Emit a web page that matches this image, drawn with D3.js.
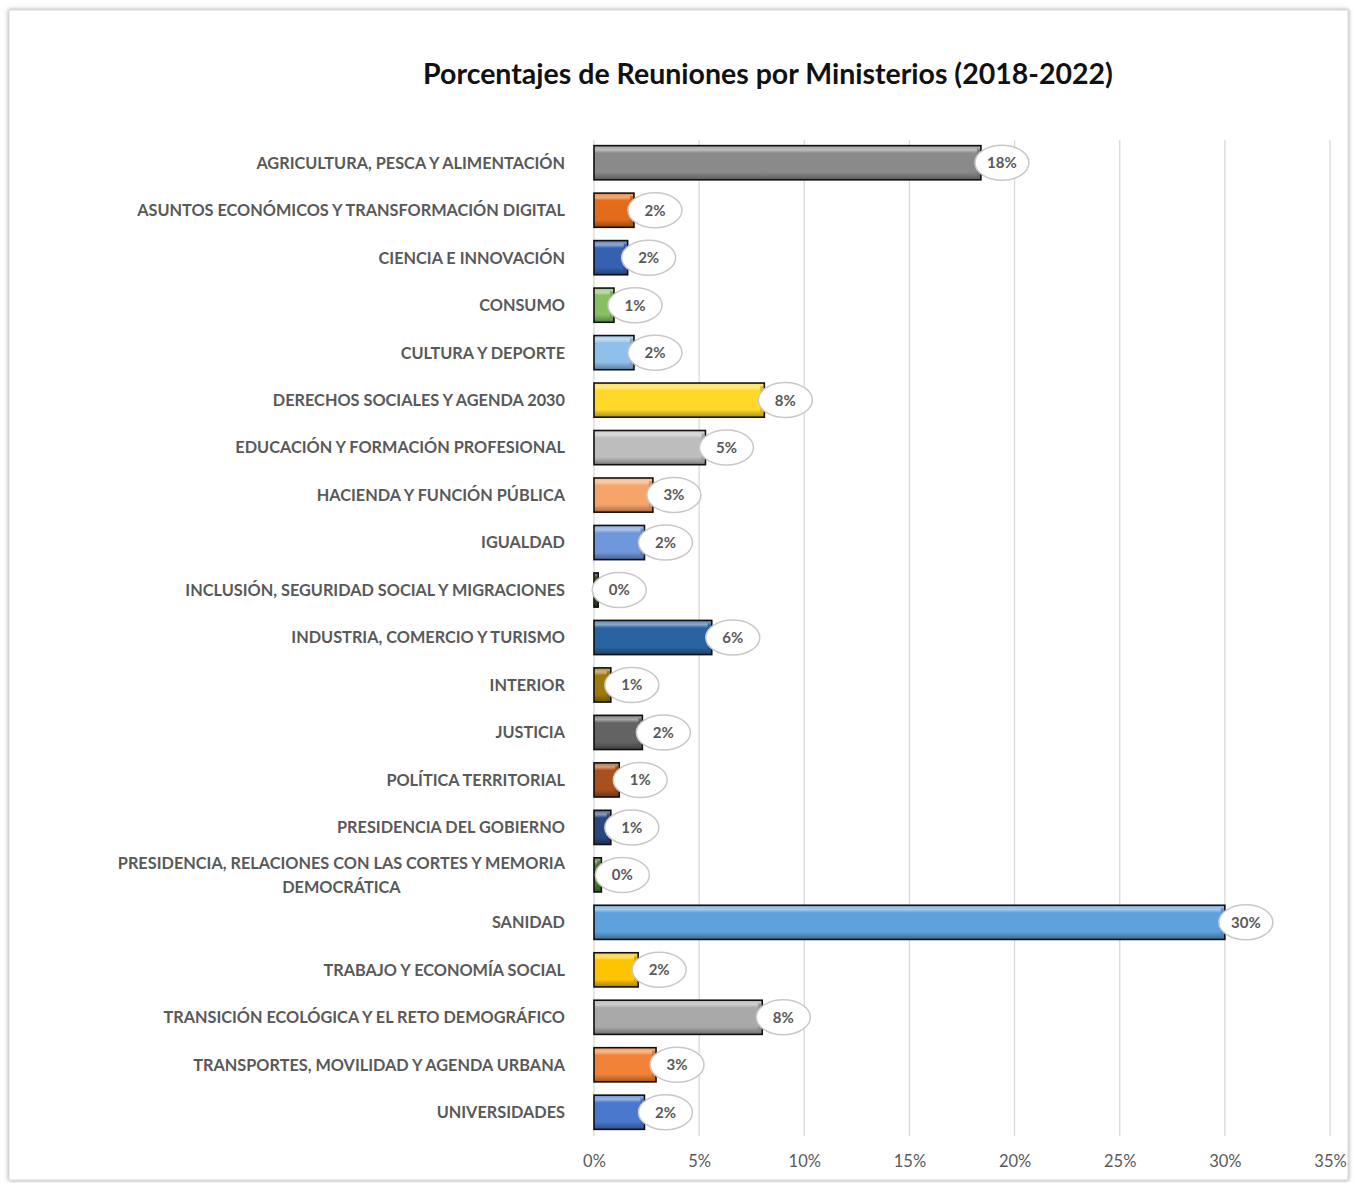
<!DOCTYPE html>
<html>
<head>
<meta charset="utf-8">
<script src="https://cdn.jsdelivr.net/npm/d3@7"></script>
<style>
  body { margin: 0; background: #fff; }
  text { font-family: Lato, "Open Sans", sans-serif; }
</style>
</head>
<body>
<script>
// ministries, in display order
var ministerios = [
	"AGRICULTURA, PESCA Y ALIMENTACIÓN",
	"ASUNTOS ECONÓMICOS Y TRANSFORMACIÓN DIGITAL",
	"CIENCIA E INNOVACIÓN",
	"CONSUMO",
	"CULTURA Y DEPORTE",
	"DERECHOS SOCIALES Y AGENDA 2030",
	"EDUCACIÓN Y FORMACIÓN PROFESIONAL",
	"HACIENDA Y FUNCIÓN PÚBLICA",
	"IGUALDAD",
	"INCLUSIÓN, SEGURIDAD SOCIAL Y MIGRACIONES",
	"INDUSTRIA, COMERCIO Y TURISMO",
	"INTERIOR",
	"JUSTICIA",
	"POLÍTICA TERRITORIAL",
	"PRESIDENCIA DEL GOBIERNO",
	"PRESIDENCIA, RELACIONES CON LAS CORTES Y MEMORIA DEMOCRÁTICA",
	"SANIDAD",
	"TRABAJO Y ECONOMÍA SOCIAL",
	"TRANSICIÓN ECOLÓGICA Y EL RETO DEMOGRÁFICO",
	"TRANSPORTES, MOVILIDAD Y AGENDA URBANA",
	"UNIVERSIDADES"
];
// share of meetings (fraction)
var porcentajes = [0.184, 0.019, 0.016, 0.0095, 0.019, 0.081, 0.053, 0.028, 0.024, 0.002,
	0.056, 0.008, 0.023, 0.012, 0.008, 0.0035, 0.30, 0.021, 0.080, 0.0295, 0.024];
var colores = ["#8a8a8a", "#e36c1a", "#3561b0", "#86c060", "#8ec0ea", "#ffd82a", "#bdbdbd",
	"#f7a46a", "#6f98dc", "#2f4a1e", "#2a64a0", "#9e7a0a", "#636363", "#a8511c", "#28477e",
	"#4a7a30", "#5ea1dc", "#ffc400", "#a9a9a9", "#f28235", "#4a78cc"];
var ticks = [0, 0.05, 0.10, 0.15, 0.20, 0.25, 0.30, 0.35];
var titulo = "Porcentajes de Reuniones por Ministerios (2018-2022)";

var W = 1354, H = 1183;
var svg = d3.select("body").append("svg")
	.attr("width", W).attr("height", H);

var defs = svg.append("defs");
var sombra = defs.append("filter").attr("id", "sombra")
	.attr("x", "-5%").attr("y", "-5%").attr("width", "110%").attr("height", "110%");
sombra.append("feDropShadow").attr("dx", 0).attr("dy", 0).attr("stdDeviation", 2)
	.attr("flood-color", "#888").attr("flood-opacity", 0.8);

// chart frame
svg.append("rect")
	.attr("x", 9).attr("y", 10).attr("width", 1339).attr("height", 1170)
	.attr("fill", "#fff").attr("stroke", "#d9d9d9").attr("stroke-width", 1)
	.attr("filter", "url(#sombra)");

var x = d3.scaleLinear().domain([0, 0.35]).range([594, 1330]);
var y = d3.scaleBand().domain(ministerios).range([139, 1136]).paddingInner(0.28).paddingOuter(0.14);

// gridlines
svg.append("g").selectAll("line").data(ticks).enter().append("line")
	.attr("x1", function (d) { return x(d); }).attr("x2", function (d) { return x(d); })
	.attr("y1", 140).attr("y2", 1136)
	.attr("stroke", "#d9d9d9").attr("stroke-width", 1.3);

// x axis tick labels
var xAxis = d3.axisBottom(x).tickValues(ticks).tickSize(0).tickPadding(0)
	.tickFormat(d3.format(".0%"));
var gx = svg.append("g").attr("transform", "translate(0,1155)").call(xAxis);
gx.select(".domain").remove();
gx.selectAll("text").attr("font-size", 16.5).attr("fill", "#595959")
	.style("font-family", "Lato, sans-serif");

// gradients per bar
colores.forEach(function (c, i) {
	var g = defs.append("linearGradient").attr("id", "grad" + i)
		.attr("x1", 0).attr("y1", 0).attr("x2", 0).attr("y2", 1);
	var base = d3.color(c);
	g.append("stop").attr("offset", "0%").attr("stop-color", d3.interpolateRgb(c, "#fff")(0.2));
	g.append("stop").attr("offset", "12%").attr("stop-color", d3.interpolateRgb(c, "#fff")(0.45));
	g.append("stop").attr("offset", "22%").attr("stop-color", c);
	g.append("stop").attr("offset", "78%").attr("stop-color", c);
	g.append("stop").attr("offset", "100%").attr("stop-color", base.darker(1.2));
});

var bars = svg.append("g").selectAll("g").data(ministerios).enter().append("g");

bars.append("rect")
	.attr("x", x(0))
	.attr("y", function (d) { return y(d); })
	.attr("width", function (d, i) { return x(porcentajes[i]) - x(0); })
	.attr("height", y.bandwidth())
	.attr("fill", function (d, i) { return "url(#grad" + i + ")"; })
	.attr("stroke", "#111").attr("stroke-width", 1.6);

// bevel edge on the right end of each bar
bars.append("rect")
	.attr("x", function (d, i) { return Math.max(x(0), x(porcentajes[i]) - 4); })
	.attr("y", function (d) { return y(d) + 3; })
	.attr("width", function (d, i) { return Math.min(3, x(porcentajes[i]) - x(0)); })
	.attr("height", y.bandwidth() - 6)
	.attr("fill", function (d, i) { return d3.color(colores[i]).darker(0.6); })
	.attr("opacity", 0.7);

// data labels in ellipses
var lab = bars.append("g")
	.attr("transform", function (d, i) {
		return "translate(" + (x(porcentajes[i]) + 21) + "," + (y(d) + y.bandwidth() / 2) + ")";
	});
lab.append("ellipse").attr("rx", 27).attr("ry", 17.5)
	.attr("fill", "#fff").attr("stroke", "#c8c8c8").attr("stroke-width", 1.5);
lab.append("text")
	.attr("text-anchor", "middle").attr("dy", "0.36em")
	.attr("font-size", 15).attr("font-weight", 700).attr("fill", "#595959")
	.text(function (d, i) { return d3.format(".0%")(porcentajes[i]); });

// category labels
var cat = svg.append("g").selectAll("text").data(ministerios).enter().append("text")
	.attr("font-size", 16.3).attr("font-weight", 700).attr("fill", "#595959")
	.attr("text-anchor", "end")
	.attr("x", 565)
	.attr("y", function (d) { return y(d) + y.bandwidth() / 2; })
	.attr("dy", "0.36em");
cat.each(function (d) {
	var t = d3.select(this);
	if (d.length > 50) {
		var cut = d.lastIndexOf(" ");
		t.attr("dy", null);
		t.append("tspan").attr("x", 565).attr("dy", "-0.35em").text(d.slice(0, cut));
		t.append("tspan").attr("x", 565).attr("dy", "1.45em").text(d.slice(cut + 1));
		// second line is centred under the first one
		var w1 = t.select("tspan").node().getComputedTextLength();
		var c = 565 - w1 / 2;
		t.selectAll("tspan").filter(function (p, j) { return j === 1; })
			.attr("x", c).attr("text-anchor", "middle");
	} else {
		t.text(d);
	}
});

// title
svg.append("text")
	.attr("x", 768).attr("y", 84)
	.attr("text-anchor", "middle")
	.attr("font-size", 28.5).attr("font-weight", 700).attr("fill", "#111")
	.text(titulo);
</script>
</body>
</html>
